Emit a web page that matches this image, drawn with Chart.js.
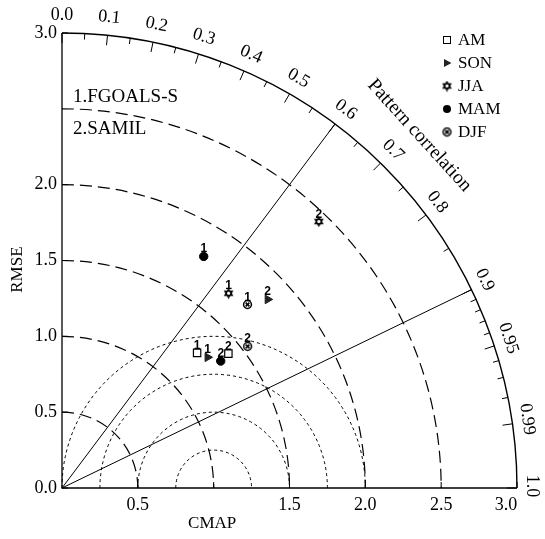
<!DOCTYPE html>
<html><head><meta charset="utf-8">
<script src="https://cdn.jsdelivr.net/npm/chart.js@4.4.1/dist/chart.umd.min.js"></script>
<style>html,body{margin:0;padding:0;background:#fff;}#wrap{width:545px;height:539px;}</style>
</head><body>
<div id="wrap"><canvas id="c"></canvas></div>
<script>
// ---- data (standard deviation, pattern correlation) ----
const seasons = ['AM', 'SON', 'JJA', 'MAM', 'DJF'];
const model1Std  = [1.26, 1.29, 1.69, 1.79, 1.72];
const model1Corr = [0.707, 0.744, 0.650, 0.522, 0.711];
const model2Std  = [1.41, 1.84, 2.44, 1.34, 1.54];
const model2Corr = [0.778, 0.737, 0.694, 0.781, 0.795];
const modelNames = ['1.FGOALS-S', '2.SAMIL'];
const modelIds = ['1', '2'];
const refStd = 1.0;
const maxStd = 3.0;
const leftTicks = [0.0, 0.5, 1.0, 1.5, 2.0, 3.0];
const leftTickLabels = ['0.0', '0.5', '1.0', '1.5', '2.0', '3.0'];
const bottomTicks = [0.5, 1.5, 2.0, 2.5, 3.0];
const bottomTickLabels = ['0.5', '1.5', '2.0', '2.5', '3.0'];
const corrLabelValues = [0.0, 0.1, 0.2, 0.3, 0.4, 0.5, 0.6, 0.7, 0.8, 0.9, 0.95, 0.99, 1.0];
const corrLabels = ['0.0', '0.1', '0.2', '0.3', '0.4', '0.5', '0.6', '0.7', '0.8', '0.9', '0.95', '0.99', '1.0'];
const corrMinor = [0.05, 0.15, 0.25, 0.35, 0.45, 0.55, 0.65, 0.75, 0.85, 0.91, 0.92, 0.93, 0.94, 0.96, 0.97, 0.98];
const stdArcs = [0.5, 1.0, 1.5, 2.0, 2.5];
const rmsArcs = [0.25, 0.5, 0.75, 1.0];
const radialCorr = [0.6, 0.9];

function toXY(s, c) { return { x: s * c, y: s * Math.sqrt(Math.max(0, 1 - c * c)) }; }

// ---- marker images ----
function starCanvas() {
  const c = document.createElement('canvas'); c.width = 11; c.height = 11;
  const g = c.getContext('2d'); g.strokeStyle = '#000'; g.lineWidth = 1.3;
  for (let k = 0; k < 2; k++) {
    g.beginPath();
    for (let i = 0; i < 3; i++) {
      const a = -Math.PI / 2 + k * Math.PI + i * 2 * Math.PI / 3;
      const px = 5.5 + 4.3 * Math.cos(a), py = 5.5 + 4.3 * Math.sin(a);
      if (i) g.lineTo(px, py); else g.moveTo(px, py);
    }
    g.closePath(); g.stroke();
  }
  return c;
}
function circXCanvas() {
  const c = document.createElement('canvas'); c.width = 11; c.height = 11;
  const g = c.getContext('2d'); g.strokeStyle = '#000'; g.lineWidth = 1.5;
  g.beginPath(); g.arc(5.5, 5.5, 3.9, 0, 2 * Math.PI); g.stroke();
  g.beginPath(); g.moveTo(3.6, 3.6); g.lineTo(7.4, 7.4); g.moveTo(7.4, 3.6); g.lineTo(3.6, 7.4); g.stroke();
  return c;
}
const starImg = starCanvas(), circXImg = circXCanvas();
const markerStyle = {
  AM:  { pointStyle: 'rect', radius: 5.2, bg: '#fff', border: '#000', rot: 0, bw: 1.2 },
  SON: { pointStyle: 'triangle', radius: 5, bg: '#222', border: '#222', rot: 90, bw: 1 },
  JJA: { pointStyle: starImg, radius: 5, bg: '#000', border: '#000', rot: 0, bw: 1 },
  MAM: { pointStyle: 'circle', radius: 4.2, bg: '#000', border: '#000', rot: 0, bw: 1 },
  DJF: { pointStyle: circXImg, radius: 5, bg: '#000', border: '#000', rot: 0, bw: 1 }
};

const datasets = seasons.map((s, i) => {
  const m = markerStyle[s];
  return {
    label: s,
    data: [toXY(model1Std[i], model1Corr[i]), toXY(model2Std[i], model2Corr[i])],
    pointStyle: m.pointStyle, pointRadius: m.radius, pointRotation: m.rot,
    pointBackgroundColor: m.bg, pointBorderColor: m.border, pointBorderWidth: m.bw,
    showLine: false
  };
});

const SERIF = '"Liberation Serif", "Times New Roman", serif';

function legendMarker(ctx, s, x, y) {
  ctx.save();
  ctx.strokeStyle = '#000'; ctx.fillStyle = '#000'; ctx.lineWidth = 1;
  if (s === 'AM') { ctx.strokeRect(x - 3.5, y - 3.5, 7, 7); }
  else if (s === 'SON') { ctx.fillStyle = '#222'; ctx.beginPath(); ctx.moveTo(x + 4.5, y); ctx.lineTo(x - 3, y - 4); ctx.lineTo(x - 3, y + 4); ctx.closePath(); ctx.fill(); }
  else if (s === 'JJA') { ctx.drawImage(starImg, x - 5.5, y - 5.5); }
  else if (s === 'MAM') { ctx.beginPath(); ctx.arc(x, y, 4, 0, 2 * Math.PI); ctx.fill(); }
  else if (s === 'DJF') { ctx.drawImage(circXImg, x - 5.5, y - 5.5); }
  ctx.restore();
}

const taylor = {
  id: 'taylor',
  beforeDatasetsDraw(chart) {
    const ctx = chart.ctx, xs = chart.scales.x, ys = chart.scales.y;
    const ox = xs.getPixelForValue(0), oy = ys.getPixelForValue(0);
    const u = xs.getPixelForValue(1) - ox;
    ctx.save();
    ctx.strokeStyle = '#000';
    // std arcs (long dash)
    ctx.lineWidth = 1.2; ctx.setLineDash([12, 6]);
    stdArcs.forEach(r => { ctx.beginPath(); ctx.arc(ox, oy, r * u, -Math.PI / 2, 0); ctx.stroke(); });
    // rms arcs (dotted) around reference
    ctx.lineWidth = 1; ctx.setLineDash([3, 3]);
    const rx = xs.getPixelForValue(refStd);
    rmsArcs.forEach(r => { ctx.beginPath(); ctx.arc(rx, oy, r * u, Math.PI, 2 * Math.PI); ctx.stroke(); });
    ctx.setLineDash([]);
    // radial lines
    ctx.lineWidth = 1;
    radialCorr.forEach(c => {
      const p = toXY(maxStd, c);
      ctx.beginPath(); ctx.moveTo(ox, oy); ctx.lineTo(xs.getPixelForValue(p.x), ys.getPixelForValue(p.y)); ctx.stroke();
    });
    // axes
    ctx.lineWidth = 1.3;
    ctx.beginPath();
    ctx.moveTo(ox, ys.getPixelForValue(maxStd)); ctx.lineTo(ox, oy); ctx.lineTo(xs.getPixelForValue(maxStd), oy);
    ctx.stroke();
    // outer arc
    ctx.lineWidth = 1.4;
    ctx.beginPath(); ctx.arc(ox, oy, maxStd * u, -Math.PI / 2, 0); ctx.stroke();
    // outer ticks
    ctx.lineWidth = 1;
    const tick = (c, len) => {
      const th = Math.acos(c), R = maxStd * u;
      ctx.beginPath();
      ctx.moveTo(ox + R * Math.cos(th), oy - R * Math.sin(th));
      ctx.lineTo(ox + (R - len) * Math.cos(th), oy - (R - len) * Math.sin(th));
      ctx.stroke();
    };
    corrLabelValues.forEach(c => tick(c, 10));
    corrMinor.forEach(c => tick(c, 6));
    // axis ticks
    leftTicks.forEach(v => { const y = ys.getPixelForValue(v); ctx.beginPath(); ctx.moveTo(ox, y); ctx.lineTo(ox + 6, y); ctx.stroke(); });
    [0.5, 1.0, 1.5, 2.0, 2.5, 3.0].forEach(v => { const x = xs.getPixelForValue(v); ctx.beginPath(); ctx.moveTo(x, oy); ctx.lineTo(x, oy - 6); ctx.stroke(); });
    // tick labels
    ctx.fillStyle = '#000';
    ctx.font = '18px ' + SERIF;
    ctx.textAlign = 'right'; ctx.textBaseline = 'middle';
    leftTicks.forEach((v, i) => ctx.fillText(leftTickLabels[i], ox - 5, ys.getPixelForValue(v)));
    ctx.textAlign = 'center'; ctx.textBaseline = 'top';
    bottomTicks.forEach((v, i) => {
      let x = xs.getPixelForValue(v);
      if (v === maxStd) x -= 11;
      ctx.fillText(bottomTickLabels[i], x, oy + 8);
    });
    // correlation labels
    ctx.textAlign = 'center'; ctx.textBaseline = 'middle';
    corrLabelValues.forEach((c, i) => {
      const th = Math.acos(c), R = maxStd * u + 18;
      ctx.save();
      ctx.translate(ox + R * Math.cos(th) - (c > 0.75 ? 3 : 0), oy - R * Math.sin(th) - (c > 0.75 ? 2 : 0));
      ctx.rotate(Math.PI / 2 - th);
      ctx.fillText(corrLabels[i], 0, 0);
      ctx.restore();
    });
    // axis titles
    ctx.font = '17px ' + SERIF;
    ctx.save(); ctx.translate(18, ys.getPixelForValue(1.44)); ctx.rotate(-Math.PI / 2); ctx.fillText('RMSE', 0, 0); ctx.restore();
    ctx.fillText('CMAP', xs.getPixelForValue(0.99), oy + 36);
    ctx.save();
    const thp = Math.acos(0.712), Rp = 3.31 * u;
    ctx.translate(ox + Rp * Math.cos(thp), oy - Rp * Math.sin(thp));
    ctx.rotate(Math.PI / 2 - thp + 0.04);
    ctx.font = '19.5px ' + SERIF;
    ctx.fillText('Pattern correlation', 0, 0);
    ctx.restore();
    // model names
    ctx.font = '19px ' + SERIF; ctx.textAlign = 'left';
    ctx.fillText(modelNames[0], ox + 11, ys.getPixelForValue(2.58));
    ctx.fillText(modelNames[1], ox + 11, ys.getPixelForValue(2.37));
    ctx.restore();
  },
  afterDatasetsDraw(chart) {
    const ctx = chart.ctx;
    ctx.save();
    ctx.fillStyle = '#000';
    ctx.font = 'bold 12px "Liberation Sans", Arial, sans-serif';
    ctx.textAlign = 'center'; ctx.textBaseline = 'alphabetic';
    chart.data.datasets.forEach((ds, di) => {
      chart.getDatasetMeta(di).data.forEach((pt, j) => {
        ctx.fillText(modelIds[j], pt.x, pt.y - 4);
      });
    });
    // legend
    const lx = 447, ly0 = 40, dy = 23;
    ctx.font = '17px ' + SERIF; ctx.textAlign = 'left'; ctx.textBaseline = 'middle';
    seasons.forEach((s, i) => {
      const y = ly0 + i * dy;
      legendMarker(ctx, s, lx, y);
      ctx.fillStyle = '#000';
      ctx.fillText(s, lx + 11, y + 1);
    });
    ctx.restore();
  }
};

new Chart(document.getElementById('c'), {
  type: 'scatter',
  data: { datasets },
  options: {
    responsive: true, maintainAspectRatio: false, animation: false,
    layout: { padding: { left: 62, top: 33, right: 28, bottom: 51 } },
    scales: {
      x: { type: 'linear', min: 0, max: maxStd, display: false },
      y: { type: 'linear', min: 0, max: maxStd, display: false }
    },
    plugins: { legend: { display: false }, tooltip: { enabled: false } }
  },
  plugins: [taylor]
});
</script>
</body></html>
